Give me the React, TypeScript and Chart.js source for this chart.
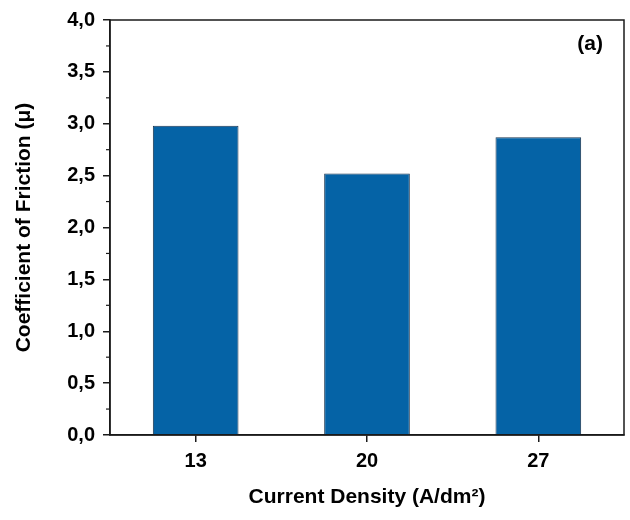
import React, { useEffect, useRef } from "react";
import { Chart, registerables } from "chart.js";

Chart.register(...registerables);

const categories = ["13", "20", "27"];
const frictionValues = [2.98, 2.52, 2.87];
const yMin = 0;
const yMax = 4;
const yStep = 0.25;
const xTitle = "Current Density (A/dm²)";
const yTitle = "Coefficient of Friction (μ)";
const panelLabel = "(a)";

const FONT = "'Liberation Sans', Arial, Helvetica, sans-serif";
const AXIS = "#1a1a1a";

const isMajor = (v: number) => Math.abs(v * 2 - Math.round(v * 2)) < 1e-9;

const framePlugin = {
  id: "frame",
  afterDraw(chart: any) {
    const { ctx, chartArea } = chart;
    const { left, right, top, bottom } = chartArea;
    ctx.save();
    ctx.strokeStyle = AXIS;
    ctx.lineWidth = 1.5;
    ctx.strokeRect(left, top, right - left, bottom - top);
    const ys = chart.scales.y;
    ctx.lineWidth = 1.2;
    ys.ticks.forEach((t: any) => {
      if (!isMajor(t.value)) {
        const py = ys.getPixelForValue(t.value);
        ctx.beginPath();
        ctx.moveTo(left, py);
        ctx.lineTo(left - 4, py);
        ctx.stroke();
      }
    });
    ctx.fillStyle = "#000";
    ctx.font = `bold 21px ${FONT}`;
    ctx.textAlign = "right";
    ctx.textBaseline = "middle";
    ctx.fillText(panelLabel, right - 21, top + 24);
    ctx.restore();
  },
};

export default function App() {
  const ref = useRef<HTMLCanvasElement | null>(null);
  useEffect(() => {
    document.body.style.margin = "0";
    const chart = new Chart(ref.current as HTMLCanvasElement, {
      type: "bar",
      data: {
        labels: categories,
        datasets: [
          {
            data: frictionValues,
            backgroundColor: "#0563a6",
            borderColor: "#1b3550",
            borderWidth: 1,
            barPercentage: 0.5,
            categoryPercentage: 1,
          },
        ],
      },
      options: {
        animation: false,
        responsive: false,
        layout: { padding: { top: 18, right: 6, left: 0, bottom: 0 } },
        plugins: { legend: { display: false }, tooltip: { enabled: false } },
        scales: {
          x: {
            afterFit: (s: any) => {
              s.height = 85;
            },
            grid: {
              display: true,
              drawOnChartArea: false,
              offset: false,
              tickLength: 7,
              color: AXIS,
              lineWidth: 1.5,
            },
            border: { display: true, color: AXIS, width: 1.5 },
            ticks: {
              color: "#000",
              font: { family: FONT, size: 20, weight: "bold" },
              padding: 7,
            },
            title: {
              display: true,
              text: xTitle,
              color: "#000",
              font: { family: FONT, size: 21, weight: "bold" },
              padding: { top: 0, bottom: 10 },
            },
          },
          y: {
            min: yMin,
            max: yMax,
            afterFit: (s: any) => {
              s.width = 110;
            },
            grid: {
              display: true,
              drawOnChartArea: false,
              tickLength: 7,
              color: (c: any) =>
                c.tick && isMajor(c.tick.value) ? AXIS : "rgba(0,0,0,0)",
              lineWidth: 1.5,
            },
            border: { display: true, color: AXIS, width: 1.5 },
            ticks: {
              stepSize: yStep,
              autoSkip: false,
              color: "#000",
              font: { family: FONT, size: 20, weight: "bold" },
              padding: 8,
              callback: (v: any) =>
                isMajor(Number(v)) ? Number(v).toFixed(1).replace(".", ",") : "",
            },
            title: {
              display: true,
              text: yTitle,
              color: "#000",
              font: { family: FONT, size: 21, weight: "bold" },
              padding: { top: 12, bottom: 0 },
            },
          },
        },
      } as any,
      plugins: [framePlugin],
    });
    return () => chart.destroy();
  }, []);
  return (
    <div style={{ width: 630, height: 520, background: "#fff" }}>
      <canvas ref={ref} width={630} height={520} />
    </div>
  );
}
